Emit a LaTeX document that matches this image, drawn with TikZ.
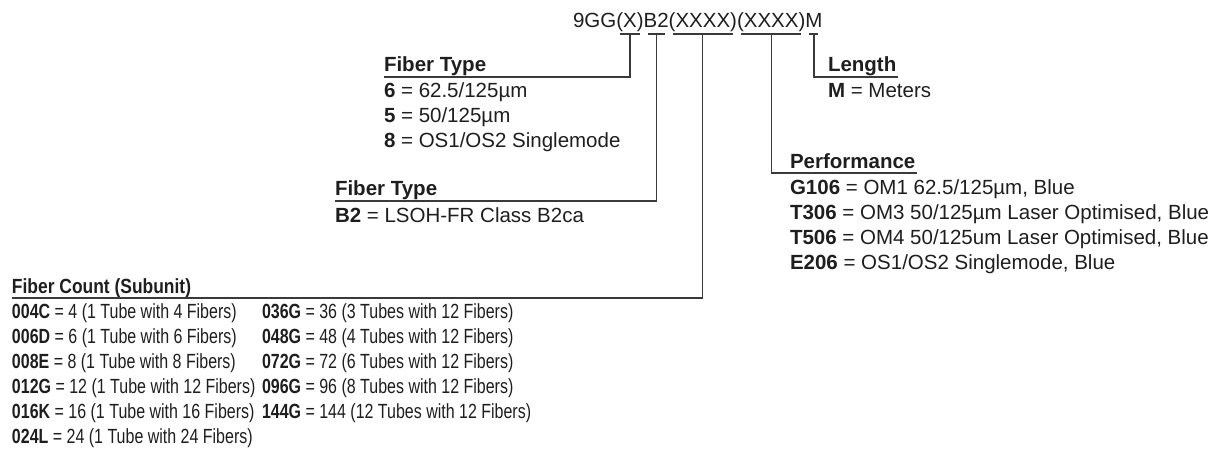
\documentclass[tikz,border=0pt]{standalone}
\usepackage{fontspec}
\setmainfont{Liberation Sans}
\newfontfamily\condfont{Liberation Sans}[FakeStretch=0.78]
\newfontfamily\condhead{Liberation Sans}[FakeStretch=0.85]
\usetikzlibrary{calc}
\definecolor{txt}{HTML}{1E1E1E}
\definecolor{ln}{HTML}{3A3A3A}
\newcommand{\fsz}{\fontsize{20.5}{24}\selectfont}
\begin{document}
\begin{tikzpicture}[x=1pt,y=-1pt,
  every node/.style={inner sep=0pt, outer sep=0pt, anchor=base west, text=txt},
  lbl/.style={font=\fsz},
  head/.style={font=\fsz\bfseries, text depth=5pt},
  chead/.style={font=\condhead\fsz\bfseries, text depth=5pt},
  cnt/.style={font=\condfont\fsz},
  code/.style={font=\fsz},
  link/.style={draw=ln, line width=1.2pt}]
\useasboundingbox (0,0) rectangle (1222,449);

% part code
\node[code] (c0) at (573,28) {9GG};
\node[code] (cX) at (c0.base east) {(X)};
\node[code] (cB) at (cX.base east) {B2};
\node[code] (cC) at (cB.base east) {(XXXX)};
\node[code] (cP) at (cC.base east) {(XXXX)};
\node[code] (cM) at (cP.base east) {M};
\coordinate (u) at (0,34);
\foreach \n in {cX,cB,cC,cP,cM}
  \draw[link] ($(\n.west |- u)+(4,0)$) -- ($(\n.east |- u)+(-4,0)$);

% Fiber Type (X)
\node[head] (ft1) at (384,72) {Fiber Type};
\node[lbl] (ft1a) at (384,98) {\textbf{6} = 62.5/125µm};
\node[lbl] (ft1b) at (384,123) {\textbf{5} = 50/125µm};
\node[lbl] (ft1c) at (384,148) {\textbf{8} = OS1/OS2 Singlemode};
\draw[link] (cX |- u) |- (ft1.south west);

% Fiber Type B2
\node[head] (ft2) at (335,196) {Fiber Type};
\node[lbl] (ft2a) at (335,222) {\textbf{B2} = LSOH-FR Class B2ca};
\draw[link] (cB |- u) |- (ft2.south west);

% Length
\node[head] (len) at (828,72) {Length};
\node[lbl] (lena) at (828,98) {\textbf{M} = Meters};
\draw[link] (cM |- u) |- ($(len.south east)+(2,0)$);

% Performance
\node[head] (perf) at (790,168) {Performance};
\node[lbl] (pf1) at (790,194) {\textbf{G106} = OM1 62.5/125µm, Blue};
\node[lbl] (pf2) at (790,219) {\textbf{T306} = OM3 50/125µm Laser Optimised, Blue};
\node[lbl] (pf3) at (790,244) {\textbf{T506} = OM4 50/125um Laser Optimised, Blue};
\node[lbl] (pf4) at (790,269) {\textbf{E206} = OS1/OS2 Singlemode, Blue};
\draw[link] (cP |- u) |- ($(perf.south east)+(2,0)$);

% Fiber Count
\node[chead] (fc) at (12,293) {Fiber Count (Subunit)};
\node[cnt] (fa1) at (12,318) {\textbf{004C} = 4 (1 Tube with 4 Fibers)};
\node[cnt] (fa2) at (12,343) {\textbf{006D} = 6 (1 Tube with 6 Fibers)};
\node[cnt] (fa3) at (12,368) {\textbf{008E} = 8 (1 Tube with 8 Fibers)};
\node[cnt] (fa4) at (12,393) {\textbf{012G} = 12 (1 Tube with 12 Fibers)};
\node[cnt] (fa5) at (12,418) {\textbf{016K} = 16 (1 Tube with 16 Fibers)};
\node[cnt] (fa6) at (12,443) {\textbf{024L} = 24 (1 Tube with 24 Fibers)};
\node[cnt] (fb1) at (262,318) {\textbf{036G} = 36 (3 Tubes with 12 Fibers)};
\node[cnt] (fb2) at (262,343) {\textbf{048G} = 48 (4 Tubes with 12 Fibers)};
\node[cnt] (fb3) at (262,368) {\textbf{072G} = 72 (6 Tubes with 12 Fibers)};
\node[cnt] (fb4) at (262,393) {\textbf{096G} = 96 (8 Tubes with 12 Fibers)};
\node[cnt] (fb5) at (262,418) {\textbf{144G} = 144 (12 Tubes with 12 Fibers)};
\draw[link] (cC |- u) |- (fc.south west);
\end{tikzpicture}
\end{document}
